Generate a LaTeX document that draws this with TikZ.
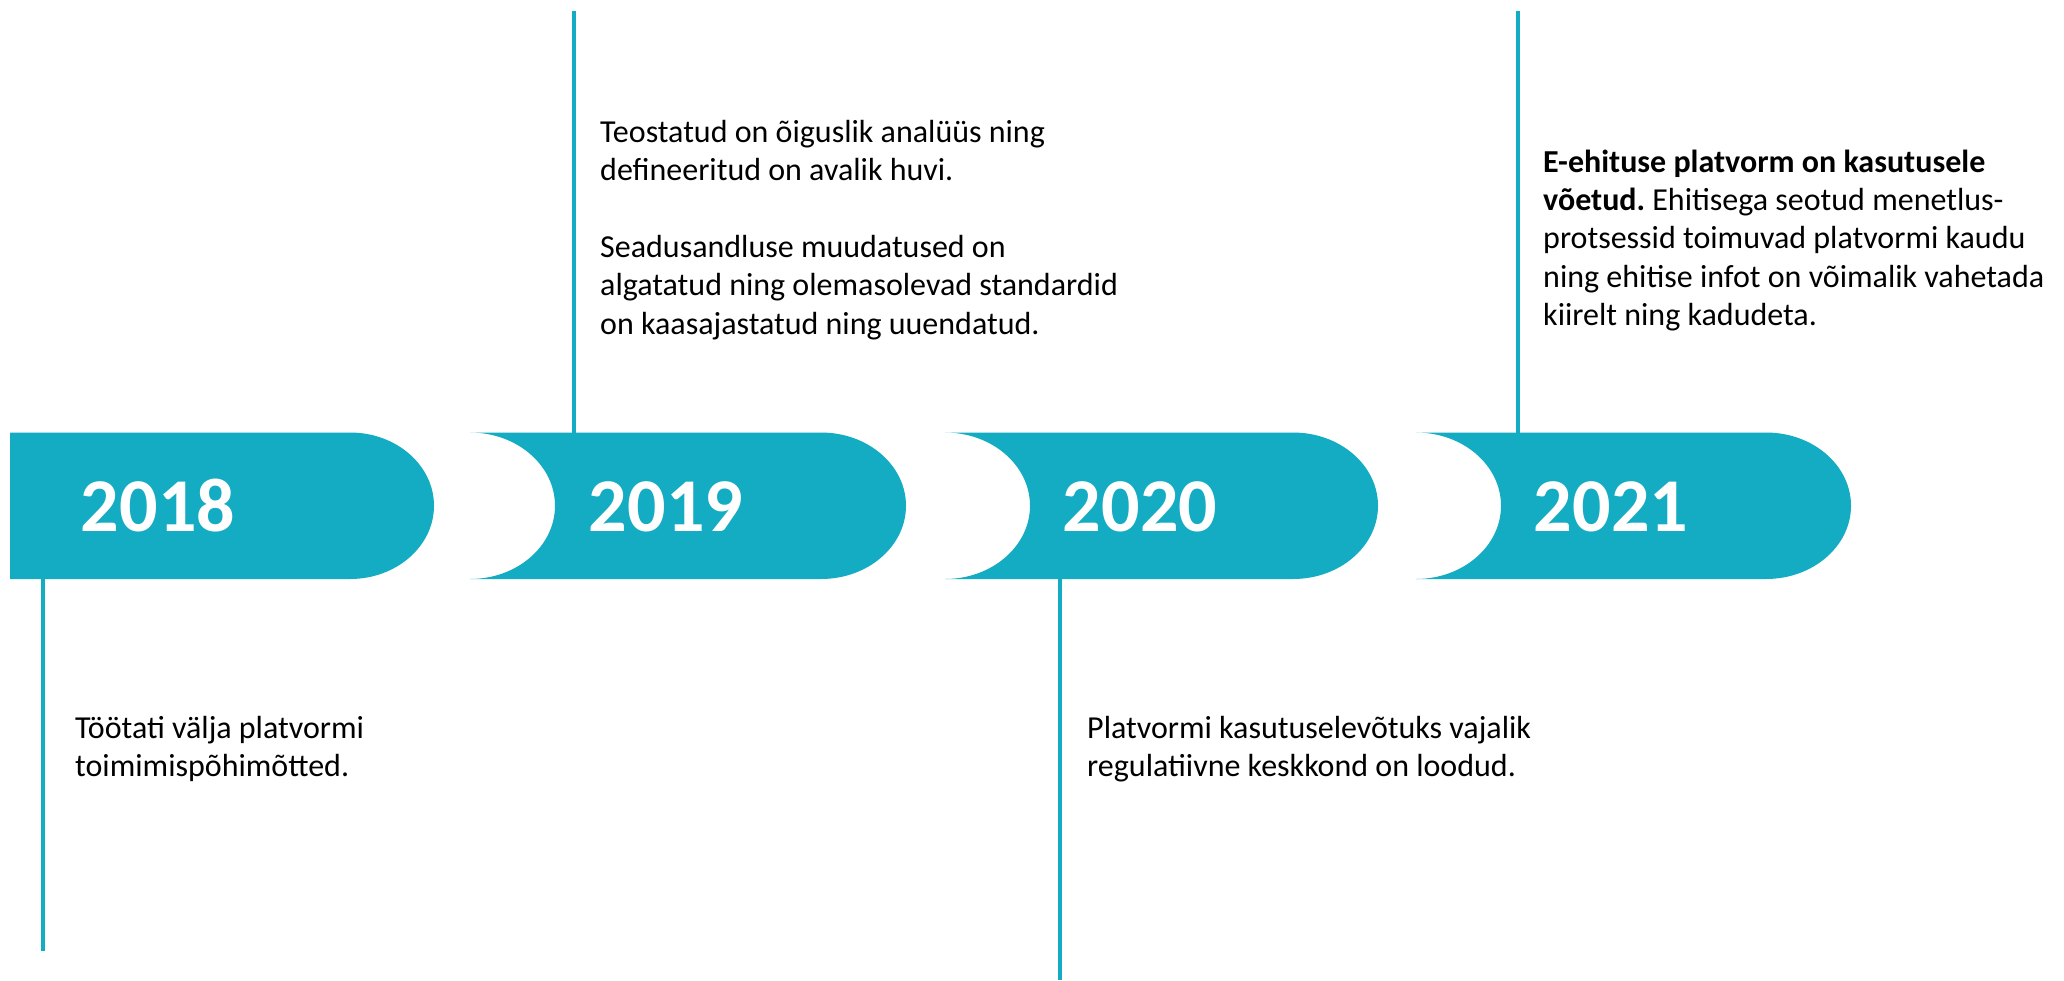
\documentclass[tikz,border=0pt]{standalone}
\usepackage{fontspec}
\setmainfont{Carlito}
\frenchspacing
\definecolor{tl}{RGB}{20,172,194}
\begin{document}
\begin{tikzpicture}[x=1pt,y=-1pt,
  bar/.style={fill=tl, draw=none},
  tick/.style={draw=tl, line width=4pt},
  year/.style={text=white, font=\fontsize{76}{80}\selectfont\bfseries, inner sep=0pt, anchor=base},
  desc/.style={anchor=base west, inner sep=0pt, text=black, font=\fontsize{32}{38.4}\selectfont}]
\useasboundingbox[fill=white] (0,0) rectangle (2064,980);

% bars
\fill[bar] (10,432.5) -- (350,432.5) arc[start angle=90,end angle=-90,x radius=84pt,y radius=73.25pt] -- (10,579) -- cycle;
\fill[bar] (470,432.5) -- (821,432.5) arc[start angle=90,end angle=-90,x radius=85pt,y radius=73.25pt] -- (470,579) arc[start angle=-90,end angle=90,x radius=85pt,y radius=73.25pt] -- cycle;
\fill[bar] (945,432.5) -- (1293,432.5) arc[start angle=90,end angle=-90,x radius=85pt,y radius=73.25pt] -- (945,579) arc[start angle=-90,end angle=90,x radius=85pt,y radius=73.25pt] -- cycle;
\fill[bar] (1416,432.5) -- (1766,432.5) arc[start angle=90,end angle=-90,x radius=85pt,y radius=73.25pt] -- (1416,579) arc[start angle=-90,end angle=90,x radius=85pt,y radius=73.25pt] -- cycle;

% years
\node[year] (y1) at (158,531) {2018};
\node[year] (y2) at (666,531) {2019};
\node[year] (y3) at (1140,531) {2020};
\node[year] (y4) at (1611,531) {2021};

% connector lines
\coordinate (b1) at (43,579);   \coordinate (e1) at (43,951);
\coordinate (b2) at (574,432.5); \coordinate (e2) at (574,11);
\coordinate (b3) at (1060,579); \coordinate (e3) at (1060,980);
\coordinate (b4) at (1518,432.5); \coordinate (e4) at (1518,11);
\draw[tick] (b1) -- (e1);
\draw[tick] (b2) -- (e2);
\draw[tick] (b3) -- (e3);
\draw[tick] (b4) -- (e4);

% descriptions
\node[desc] (t1) at (75,738) {\parbox[t]{420pt}{\raggedright Töötati välja platvormi\\toimimispõhimõtted.}};
\node[desc] (t2) at (600,142) {\parbox[t]{560pt}{\raggedright Teostatud on õiguslik analüüs ning\\defineeritud on avalik huvi.\\[38.4pt]Seadusandluse muudatused on\\algatatud ning olemasolevad standardid\\on kaasajastatud ning uuendatud.}};
\node[desc] (t3) at (1087,738) {\parbox[t]{520pt}{\raggedright Platvormi kasutuselevõtuks vajalik\\regulatiivne keskkond on loodud.}};
\node[desc] (t4) at (1543,172) {\parbox[t]{518pt}{\raggedright \textbf{E-ehituse platvorm on kasutusele}\\\textbf{võetud.} Ehitisega seotud menetlus-\\protsessid toimuvad platvormi kaudu\\ning ehitise infot on võimalik vahetada\\kiirelt ning kadudeta.}};
\end{tikzpicture}
\end{document}
